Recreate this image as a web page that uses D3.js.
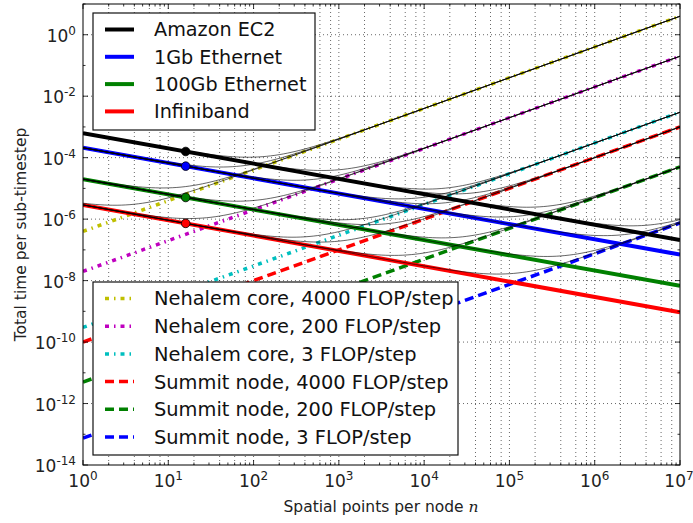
<!DOCTYPE html>
<html>
<head>
<meta charset="utf-8">
<script src="https://cdn.jsdelivr.net/npm/d3@7.9.0/dist/d3.min.js"></script>
<style>
  body { margin: 0; background: #fff; }
  svg { font-family: "DejaVu Sans", sans-serif; display: block; }
</style>
</head>
<body>
<svg id="chart" width="693" height="523"></svg>
<script>
// network (communication) curves: value at n=1 and at n=1e7
const netNames  = ['Amazon EC2', '1Gb Ethernet', '100Gb Ethernet', 'Infiniband'];
const netColors = ['#000000', '#0000ff', '#008000', '#ff0000'];
const netAtOne  = [6.3e-4, 2.1e-4, 2.0e-5, 2.9e-6];
const netAtMax  = [2.1e-7, 7.0e-8, 6.8e-9, 9.3e-10];
const dotN = 16;

// compute curves: value at n=1 and at n=1e7
const compNames  = ['Nehalem core, 4000 FLOP/step', 'Nehalem core, 200 FLOP/step', 'Nehalem core, 3 FLOP/step',
                    'Summit node, 4000 FLOP/step', 'Summit node, 200 FLOP/step', 'Summit node, 3 FLOP/step'];
const compColors = ['#bfbf00', '#bf00bf', '#00bfbf', '#ff0000', '#008000', '#0000ff'];
const compDash   = ['dashdot', 'dashdot', 'dashdot', 'dash', 'dash', 'dash'];
const compAtOne  = [4e-7, 2e-8, 3e-10, 1e-10, 5e-12, 7.5e-14];
const compAtMax  = [4, 0.2, 3e-3, 1e-3, 5e-5, 7.5e-7];

const xTickExp = [0, 1, 2, 3, 4, 5, 6, 7];
const yTickExp = [-14, -12, -10, -8, -6, -4, -2, 0];

const W = 693, H = 523;
const m = {left: 83, right: 13, top: 4, bottom: 58};
const svg = d3.select('#chart');

const x = d3.scaleLog().domain([1, 1e7]).range([m.left, W - m.right]);
const y = d3.scaleLog().domain([1e-14, 1e1]).range([H - m.bottom, m.top]);
const nMin = 1, nMax = 1e7;

// power law through the two read values
function powerAt(a, b, n) {
  const s = (Math.log10(b) - Math.log10(a)) / 7;
  return a * Math.pow(n, s);
}

svg.append('defs').append('clipPath').attr('id', 'clip')
  .append('rect')
  .attr('x', m.left).attr('y', m.top)
  .attr('width', W - m.left - m.right).attr('height', H - m.top - m.bottom);

// grid
const grid = svg.append('g').attr('stroke', '#000').attr('stroke-width', 0.6)
  .attr('stroke-dasharray', '1,3');
const xGrid = [];
for (let d = 0; d < 7; d++) [1, 2, 4, 6, 8].forEach(k => xGrid.push(k * Math.pow(10, d)));
grid.selectAll('line.xg').data(xGrid.slice(1)).join('line')
  .attr('x1', d => x(d)).attr('x2', d => x(d))
  .attr('y1', m.top).attr('y2', H - m.bottom);
grid.selectAll('line.yg').data(yTickExp.slice(1)).join('line')
  .attr('x1', m.left).attr('x2', W - m.right)
  .attr('y1', d => y(Math.pow(10, d))).attr('y2', d => y(Math.pow(10, d)));

const plot = svg.append('g').attr('clip-path', 'url(#clip)');
const line = d3.line().x(d => x(d[0])).y(d => y(d[1]));
const dashOf = t => t === 'dash' ? '9,5' : '4,5,1.5,5';

// compute lines
compAtOne.forEach((a, i) => {
  plot.append('path')
    .datum([[nMin, a], [nMax, compAtMax[i]]])
    .attr('d', line)
    .attr('fill', 'none')
    .attr('stroke', compColors[i])
    .attr('stroke-width', 3.5)
    .attr('stroke-dasharray', dashOf(compDash[i]));
});

// network lines
netAtOne.forEach((a, i) => {
  plot.append('path')
    .datum([[nMin, a], [nMax, netAtMax[i]]])
    .attr('d', line)
    .attr('fill', 'none')
    .attr('stroke', netColors[i])
    .attr('stroke-width', 4);
});

// total time curves (network + compute)
const ns = d3.range(0, 7.001, 0.05).map(e => Math.pow(10, e));
netAtOne.forEach((a, i) => {
  compAtOne.forEach((c, j) => {
    const pts = ns.map(n => [n, powerAt(a, netAtMax[i], n) + powerAt(c, compAtMax[j], n)]);
    plot.append('path')
      .datum(pts)
      .attr('d', line)
      .attr('fill', 'none')
      .attr('stroke', '#000')
      .attr('stroke-opacity', 0.6)
      .attr('stroke-width', 1);
  });
});

// dots
plot.selectAll('circle').data(netAtOne).join('circle')
  .attr('cx', x(dotN))
  .attr('cy', (d, i) => y(powerAt(d, netAtMax[i], dotN)))
  .attr('r', 4.3)
  .attr('fill', (d, i) => netColors[i])
  .attr('stroke', '#000').attr('stroke-width', 0.8);

// frame
svg.append('rect')
  .attr('x', m.left).attr('y', m.top)
  .attr('width', W - m.left - m.right).attr('height', H - m.top - m.bottom)
  .attr('fill', 'none').attr('stroke', '#000').attr('stroke-width', 1);

// ticks (inward, all sides)
const ticks = svg.append('g').attr('stroke', '#000').attr('stroke-width', 0.8);
const xMinor = [];
for (let d = 0; d < 7; d++) for (let k = 2; k <= 9; k++) xMinor.push(k * Math.pow(10, d));
const yb = H - m.bottom, yt = m.top, xl = m.left, xr = W - m.right;
xTickExp.forEach(e => {
  const px = x(Math.pow(10, e));
  ticks.append('line').attr('x1', px).attr('x2', px).attr('y1', yb).attr('y2', yb - 5);
  ticks.append('line').attr('x1', px).attr('x2', px).attr('y1', yt).attr('y2', yt + 5);
});
xMinor.forEach(v => {
  const px = x(v);
  ticks.append('line').attr('x1', px).attr('x2', px).attr('y1', yb).attr('y2', yb - 2.5);
  ticks.append('line').attr('x1', px).attr('x2', px).attr('y1', yt).attr('y2', yt + 2.5);
});
d3.range(-14, 2).forEach(e => {
  const py = y(Math.pow(10, e));
  const len = yTickExp.includes(e) ? 5 : 2.5;
  ticks.append('line').attr('x1', xl).attr('x2', xl + len).attr('y1', py).attr('y2', py);
  ticks.append('line').attr('x1', xr).attr('x2', xr - len).attr('y1', py).attr('y2', py);
});

// tick labels
function powLabel(g, e, px, py, anchor) {
  const t = g.append('text').attr('x', px).attr('y', py)
    .attr('text-anchor', anchor).attr('fill', '#222');
  t.append('tspan').attr('font-size', 17).text('10');
  t.append('tspan').attr('font-size', 12).attr('dy', -7).text(e);
}
const lbl = svg.append('g');
xTickExp.forEach(e => powLabel(lbl, e, Math.min(x(Math.pow(10, e)), 679), 487, 'middle'));
yTickExp.forEach(e => powLabel(lbl, e, 76, y(Math.pow(10, e)) + 7, 'end'));

// axis titles
const xt = svg.append('text').attr('x', 381).attr('y', 512)
  .attr('text-anchor', 'middle').attr('font-size', 15.5).attr('fill', '#222');
xt.append('tspan').text('Spatial points per node ');
xt.append('tspan').attr('font-style', 'italic').attr('font-family', '"DejaVu Serif", serif').text('n');
svg.append('text')
  .attr('transform', `translate(26,${(m.top + H - m.bottom) / 2}) rotate(-90)`)
  .attr('text-anchor', 'middle').attr('font-size', 15.5).attr('fill', '#222')
  .text('Total time per sub-timestep');

// legends
function legend(names, colors, dashes, box, y0, step, fs) {
  const g = svg.append('g');
  g.append('rect').attr('x', box[0]).attr('y', box[1])
    .attr('width', box[2]).attr('height', box[3])
    .attr('fill', '#fff').attr('stroke', '#111').attr('stroke-width', 1.2);
  names.forEach((nm, i) => {
    const yy = y0 + i * step;
    g.append('line').attr('x1', 105).attr('x2', 134).attr('y1', yy).attr('y2', yy)
      .attr('stroke', colors[i])
      .attr('stroke-width', dashes ? 3.5 : 4)
      .attr('stroke-dasharray', dashes ? dashOf(dashes[i]) : null);
    g.append('text').attr('x', 154).attr('y', yy).attr('dy', '0.36em')
      .attr('font-size', fs).attr('fill', '#111').text(nm);
  });
}
legend(netNames, netColors, null, [93, 13, 222, 117], 29.5, 27.3, 19.2);
legend(compNames, compColors, compDash, [93, 282, 365, 173], 298.5, 27.7, 19.4);
</script>
</body>
</html>
